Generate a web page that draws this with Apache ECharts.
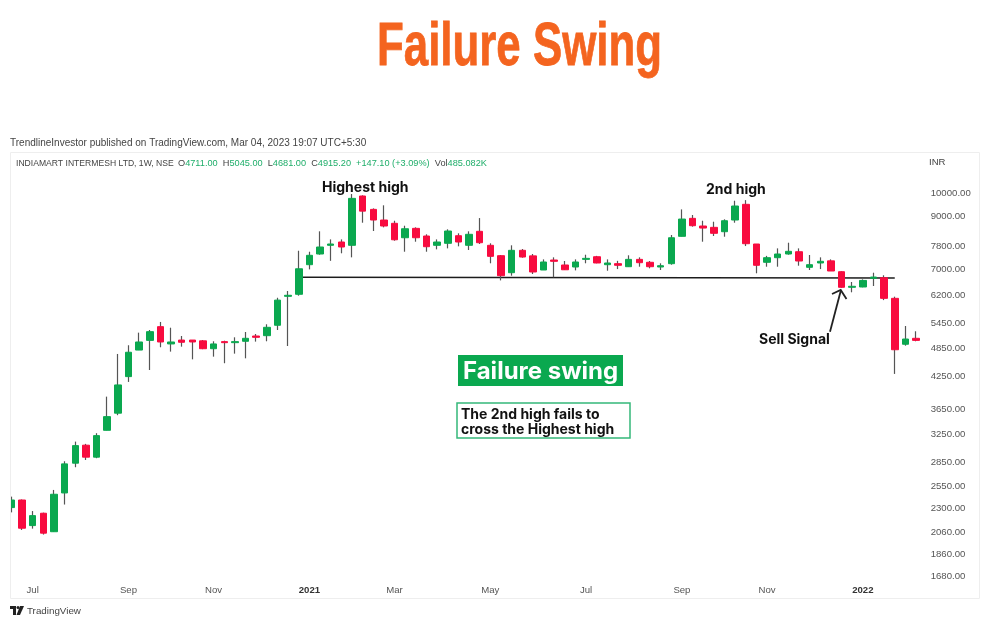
<!DOCTYPE html>
<html>
<head>
<meta charset="utf-8">
<style>html,body{margin:0;padding:0;background:#fff}#main{width:989px;height:628px}</style>
<script src="https://cdn.jsdelivr.net/npm/echarts@6/dist/echarts.min.js"></script>
</head>
<body>
<div id="main"></div>
<script>
var opens = [2310,2393,2124,2250,2064,2473,2841,3090,2922,3312,3587,4254,4815,5037,5370,4954,5045,5045,5027,4845,5008,4984,5016,5141,5149,5405,6186,6245,7169,7535,7847,7969,7847,9875,9278,8829,8695,8129,8493,8195,7847,7921,8206,7847,8376,7847,7476,6906,7666,7470,6993,7327,7159,7092,7349,7440,7169,7203,7102,7349,7250,7092,7203,8183,8898,8586,8533,8361,8829,9500,7895,7250,7407,7535,7616,7082,7226,7299,6938,6452,6461,6727,6746,6128,4947,5086];
var closes = [2393,2098,2225,2050,2458,2832,3084,2922,3231,3530,4092,4766,5000,5246,5000,5000,4993,5000,4845,4954,4984,5008,5086,5110,5354,6078,6216,7034,7490,7785,7895,7785,9767,9202,8829,8586,8052,8477,8129,7796,7969,8388,7969,8260,7943,7454,6810,7666,7430,6929,7260,7283,7001,7260,7384,7226,7226,7149,7349,7236,7102,7135,8129,8869,8598,8505,8299,8800,9425,7906,7149,7407,7535,7630,7293,7169,7283,6961,6452,6482,6662,6768,6128,4822,5069,5037];
var lows = [2259,2081,2094,2037,2064,2343,2788,2884,2908,3312,3554,4150,4815,4387,4878,4780,4892,4611,4835,4669,4528,4735,4633,5008,5016,5287,4907,6204,7014,7511,7299,7560,7419,8719,8388,8533,8017,7616,7980,7616,7701,7736,7810,7677,7895,7216,6663,6810,7407,6865,6993,6759,6993,6981,7216,7216,6970,7024,7102,7102,7049,6993,7169,8183,8560,7980,8195,8168,8719,7820,6887,7102,7102,7511,7135,6993,7024,6961,6440,6303,6452,6491,6078,4308,4914,5016];
var highs = [2431,2399,2273,2256,2508,2867,3142,3109,3268,3875,4728,4924,5222,5287,5489,5344,5141,5045,5045,5016,5030,5110,5238,5190,5430,6145,6341,7651,7616,8376,8067,8067,9967,9907,9322,9456,8800,8598,8533,8260,8067,8454,8299,8376,8910,7921,7500,7847,7714,7535,7349,7419,7293,7349,7511,7470,7349,7299,7490,7419,7293,7216,8233,9278,9038,8800,8760,8858,9661,9688,7895,7470,7736,7943,7736,7500,7419,7349,6950,6614,6694,6906,6824,6176,5387,5256];

var monthIndex = [2,11,19,28,36,45,54,63,71,80];
var monthNames = ['Jul','Sep','Nov','2021','Mar','May','Jul','Sep','Nov','2022'];
var priceTicks = [10000,9000,7800,7000,6200,5450,4850,4250,3650,3250,2850,2550,2300,2060,1860,1680];
var necklineData = [[27,6759],[83,6736]];

var categories = [];
var wickData = [];
var bodyData = [];
for (var i = 0; i < opens.length; i++) {
  categories.push(String(i));
  wickData.push([opens[i], closes[i], lows[i], highs[i]]);
  bodyData.push([opens[i], closes[i], Math.min(opens[i], closes[i]), Math.max(opens[i], closes[i])]);
}
categories.push(String(opens.length)); // blank bar on the right

var GREEN = '#0aa84f', RED = '#f80b3f', FONT = '"Liberation Sans", Arial, sans-serif', BOLD = 'Inter, "Liberation Sans", sans-serif';

var myChart = echarts.init(document.getElementById('main'));

var option = {
  animation: false,
  backgroundColor: '#fff',
  grid: {left: 11.4, top: 153, width: 915.3, height: 427},
  xAxis: {
    type: 'category',
    data: categories,
    boundaryGap: false,
    axisLine: {show: false},
    axisTick: {show: false},
    splitLine: {show: false},
    axisLabel: {
      interval: 0,
      margin: 5,
      fontFamily: FONT,
      fontSize: 9.6,
      color: '#555',
      formatter: function (v) {
        var k = monthIndex.indexOf(+v);
        if (k < 0) return '';
        var n = monthNames[k];
        return /^\d+$/.test(n) ? '{y|' + n + '}' : n;
      },
      rich: {y: {fontWeight: 'bold', fontSize: 9.6, fontFamily: FONT, color: '#333'}}
    }
  },
  yAxis: {
    type: 'log',
    position: 'right',
    min: 1648,
    max: 12068,
    axisLine: {show: false},
    axisTick: {show: false},
    splitLine: {show: false},
    minorSplitLine: {show: false},
    axisLabel: {
      customValues: priceTicks,
      margin: 4,
      fontFamily: FONT,
      fontSize: 9.6,
      color: '#555',
      formatter: function (v) { return Number(v).toFixed(2); }
    }
  },
  series: [
    {type: 'line', data: necklineData, symbol: 'none', z: 1, lineStyle: {color: '#1c1c1c', width: 1.6}},
    {type: 'candlestick', data: wickData, barWidth: 1, z: 2,
      itemStyle: {color: '#555', color0: '#555', borderColor: '#555', borderColor0: '#555', borderWidth: 1.2}},
    {type: 'candlestick', data: bodyData, barWidth: 7, z: 3,
      itemStyle: {color: GREEN, color0: RED, borderColor: GREEN, borderColor0: RED, borderWidth: 1}}
  ],
  graphic: [
    {type: 'text', z: 50, x: 377, y: 17, scaleX: 0.707, style: {text: 'Failure Swing', fill: '#f4641f', stroke: '#f4641f', lineWidth: 0.8, font: 'bold 62px ' + FONT}},
    // first candle is cut by the chart's left edge
    {type: 'rect', z: 50, shape: {x: 0, y: 480, width: 10, height: 50}, style: {fill: '#fff'}},
    {type: 'rect', z: 51, shape: {x: 10.5, y: 152.5, width: 969, height: 446}, style: {fill: 'none', stroke: '#eeeeee', lineWidth: 1}},
    {type: 'text', x: 10, y: 138, style: {text: 'TrendlineInvestor published on TradingView.com, Mar 04, 2023 19:07 UTC+5:30', fill: '#444', font: '10px ' + FONT}},
    {type: 'text', x: 16, y: 159, style: {
      text: 'INDIAMART INTERMESH LTD, 1W, NSE',
      fill: '#444', font: '8.6px ' + FONT}},
    {type: 'text', x: 178, y: 159, style: {
      text: 'O{g|4711.00}  H{g|5045.00}  L{g|4681.00}  C{g|4915.20}  {g|+147.10 (+3.09%)}  Vol{g|485.082K}',
      fill: '#444', font: '9.2px ' + FONT,
      rich: {g: {fill: '#1fae6a', font: '9.2px ' + FONT}}}},
    {type: 'text', x: 929, y: 157, style: {text: 'INR', fill: '#444', font: '9.6px ' + FONT}},
    {type: 'text', x: 322, y: 180.5, style: {text: 'Highest high', fill: '#111', font: 'bold 14px ' + BOLD}},
    {type: 'text', x: 706, y: 183, style: {text: '2nd high', fill: '#111', font: 'bold 14px ' + BOLD}},
    {type: 'text', x: 759, y: 333, style: {text: 'Sell Signal', fill: '#111', font: 'bold 14px ' + BOLD}},
    {type: 'polyline', shape: {points: [[830, 331.7], [840.7, 291]]}, style: {stroke: '#222', lineWidth: 1.8, fill: 'none'}},
    {type: 'polyline', shape: {points: [[832, 294], [840.7, 290], [846.5, 299]]}, style: {stroke: '#222', lineWidth: 1.8, fill: 'none'}},
    {type: 'rect', shape: {x: 458, y: 355, width: 165, height: 31}, style: {fill: GREEN}},
    {type: 'text', x: 463, y: 360, style: {text: 'Failure swing', fill: '#fff', font: 'bold 24px ' + BOLD}},
    {type: 'rect', shape: {x: 457, y: 403, width: 173, height: 35}, style: {fill: '#fff', stroke: '#35b87a', lineWidth: 1.5}},
    {type: 'text', x: 461, y: 408, style: {text: 'The 2nd high fails to\ncross the Highest high', fill: '#111', font: 'bold 14px ' + BOLD, lineHeight: 14.5}},
    // TradingView logo
    {type: 'polygon', shape: {points: [[10, 606], [16, 606], [16, 615], [13, 615], [13, 609], [10, 609]]}, style: {fill: '#222'}},
    {type: 'circle', shape: {cx: 18, cy: 607.5, r: 1.5}, style: {fill: '#222'}},
    {type: 'polygon', shape: {points: [[20, 606], [24, 606], [20, 615], [16.5, 615]]}, style: {fill: '#222'}},
    {type: 'text', x: 27, y: 606, style: {text: 'TradingView', fill: '#444', font: '9.8px ' + FONT}}
  ]
};
myChart.setOption(option);
</script>
</body>
</html>
